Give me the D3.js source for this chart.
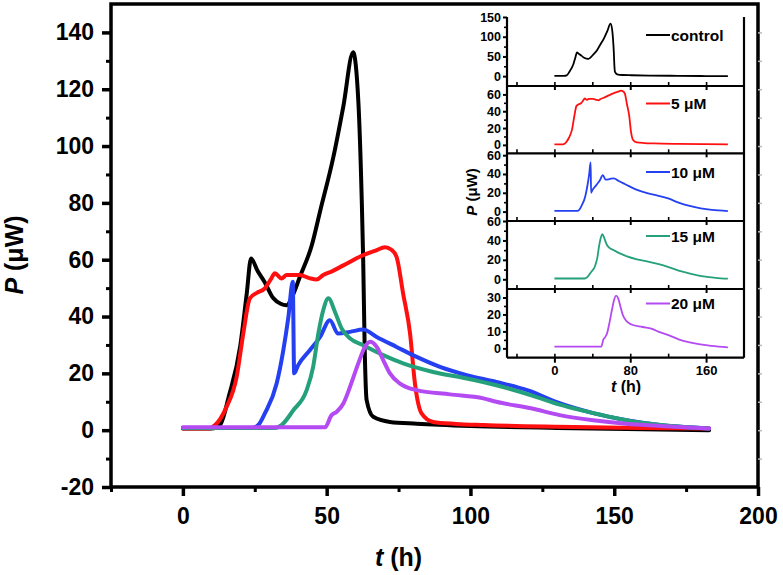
<!DOCTYPE html>
<html><head><meta charset="utf-8">
<script src="https://cdn.jsdelivr.net/npm/d3@7"></script>
<style>
body{margin:0;background:#fff;}
svg{display:block;font-family:"Liberation Sans",Arial,sans-serif;font-weight:bold;}
</style></head>
<body><svg id="c" width="783" height="575"></svg>
<script>
// ---- data ----
const seriesNames = ["control", "5 \u03bcM", "10 \u03bcM", "15 \u03bcM", "20 \u03bcM"];
const seriesColors = ["#000000", "#ff1010", "#2440f0", "#24a07a", "#b44af2"];

const tControl = [0, 10, 13, 16, 20, 22.2, 23.7, 26, 28.5, 31.4, 34, 36.1, 38, 40.7, 44.8, 47.7, 52.3, 55.8, 59.2, 61, 62.2, 62.7, 63.2, 63.9, 66.2, 72, 81.3, 100, 130, 160, 183];
const pControl = [0.6, 0.6, 2, 12, 30, 48, 60.4, 56, 52, 46.5, 44.5, 44, 47, 54, 65, 77, 96, 114, 133, 116, 81, 60, 30, 10.6, 4.7, 2.9, 2.3, 1.5, 0.8, 0.3, 0];

const tRed = [0, 9, 11.2, 13, 15.2, 18.7, 21, 23.3, 25.7, 28.5, 30.5, 32, 34.3, 36.1, 40.7, 44, 46.5, 48.8, 52, 55.8, 62.7, 67, 70.3, 72.5, 74.3, 76.6, 79, 80.7, 83, 87, 95, 104.5, 130, 160, 183];
const pRed = [0.6, 0.6, 1.8, 4, 8.2, 18.8, 34, 46.4, 48.3, 49.9, 53, 55.2, 53.4, 54.6, 54.6, 53.5, 53, 54.6, 56, 58, 61.6, 63.2, 64.4, 63.5, 61, 48, 34, 16.4, 5.9, 2.9, 2.2, 1.8, 1.2, 0.8, 0.6];

const tBlue = [0, 24, 26.2, 28.5, 32.6, 34.9, 36.7, 38.2, 38.7, 40.1, 44.2, 47.7, 51.1, 54, 58.1, 62.7, 67.4, 74.3, 81.3, 89.4, 98.7, 109, 120, 131, 142.7, 154.3, 166, 183];
const pBlue = [0.8, 0.8, 1.8, 5.9, 16.4, 28, 39.9, 52.2, 20, 22.9, 28.2, 32.8, 38.7, 34, 34.6, 35.4, 32.8, 29.3, 25.8, 22.3, 19.4, 17, 14, 9.5, 6, 3.5, 1.8, 0.6];

const tGreen = [0, 32, 34.3, 38.4, 43, 45.3, 47.1, 48.8, 50.6, 52.9, 55.2, 58.1, 62.7, 69.7, 76.6, 87, 98.7, 109, 122, 131, 139.5, 157, 170, 183];
const pGreen = [0.8, 0.8, 1.8, 7, 14, 22.3, 34, 42.2, 46.4, 41.6, 35.8, 32.3, 29.9, 26.4, 23.5, 20.5, 18.2, 15.8, 12, 9, 6.8, 3, 1.5, 0.6];

const tPurple = [0, 49.4, 51.7, 53.5, 55.8, 58.1, 61, 63.3, 65.1, 67.4, 69.7, 72, 75.5, 81.3, 92.9, 104.5, 109, 121, 131, 142.7, 154, 166, 183];
const pPurple = [1, 1, 5.3, 6.5, 9.4, 15.2, 23.5, 29.3, 31.1, 29.3, 24.6, 20, 16.4, 14.1, 12.6, 11.2, 10, 7.7, 5.3, 3.5, 2.3, 1.5, 0.6];

const mainXTicks = [0, 50, 100, 150, 200];
const mainYTicks = [-20, 0, 20, 40, 60, 80, 100, 120, 140];
const insetXTicks = [0, 80, 160];
const insetYTicks = [[0, 50, 100, 150], [0, 20, 40, 60], [0, 20, 40, 60], [0, 20, 40, 60], [0, 10, 20, 30]];
const insetYDomains = [[-25, 150], [-10, 70], [-10, 62], [-10, 60], [-5.5, 35]];

const series = [[tControl, pControl], [tRed, pRed], [tBlue, pBlue], [tGreen, pGreen], [tPurple, pPurple]]
  .map((s, i) => ({name: seriesNames[i], color: seriesColors[i], pts: s[0].map((t, j) => [t, s[1][j]])}));

// ---- layout ----
const svg = d3.select("#c");
const L = 111, R = 758, T = 4, B = 487;
const x = d3.scaleLinear().domain([-25, 200]).range([L, R]);
const y = d3.scaleLinear().domain([-20, 150]).range([B, T]);
const fmt = d => String(d);

const g = svg.append("g");
const line = d3.line().x(d => x(d[0])).y(d => y(d[1])).curve(d3.curveMonotoneX);
series.forEach(s => {
  g.append("path").attr("d", line(s.pts)).attr("fill", "none")
    .attr("stroke", s.color).attr("stroke-width", 4).attr("stroke-linejoin", "round").attr("stroke-linecap", "round");
});

g.append("rect").attr("x", L).attr("y", T).attr("width", R - L).attr("height", B - T)
  .attr("fill", "none").attr("stroke", "#000").attr("stroke-width", 3.5);

const xAxis = d3.axisBottom(x).tickValues(mainXTicks).tickSize(9).tickPadding(12).tickFormat(fmt);
const xMinor = d3.axisBottom(x).tickValues([-25, 25, 75, 125, 175]).tickSize(5).tickFormat("");
const yAxis = d3.axisLeft(y).tickValues(mainYTicks).tickSize(9).tickPadding(8).tickFormat(fmt);
const yMinor = d3.axisLeft(y).tickValues(d3.range(-10, 150, 20)).tickSize(5).tickFormat("");

function styleAxis(sel, fs, sw) {
  sel.select(".domain").remove();
  sel.selectAll("line").attr("stroke", "#000").attr("stroke-width", sw);
  sel.selectAll("text").attr("font-size", fs).attr("font-weight", "bold").attr("fill", "#000")
    .attr("font-family", "'Liberation Sans',Arial,sans-serif");
}
g.append("g").attr("transform", `translate(0,${B})`).call(xAxis).call(s => styleAxis(s, 23, 3.5));
g.append("g").attr("transform", `translate(0,${B})`).call(xMinor).call(s => styleAxis(s, 23, 3));
g.append("g").attr("transform", `translate(${L},0)`).call(yAxis).call(s => styleAxis(s, 23, 3.5));
g.append("g").attr("transform", `translate(${L},0)`).call(yMinor).call(s => styleAxis(s, 23, 3));
g.append("g").attr("transform", `translate(${R},0)`).call(d3.axisRight(y).tickValues(d3.range(-10, 150, 10)).tickSize(4).tickFormat(""))
  .call(s => { s.select(".domain").remove(); s.selectAll("line").attr("stroke", "#bbb").attr("stroke-width", 1.5); });

const xt = g.append("text").attr("x", x(75)).attr("y", 566).attr("text-anchor", "middle").attr("font-size", 25);
xt.append("tspan").attr("font-style", "italic").text("t");
xt.append("tspan").text(" (h)");
const yt = g.append("text").attr("transform", "translate(23,255) rotate(-90)").attr("text-anchor", "middle").attr("font-size", 25);
yt.append("tspan").attr("font-style", "italic").text("P");
yt.append("tspan").text(" (\u03bcW)");

// ---- inset ----
const iL = 507, iR = 744;
const panelBounds = [[17, 86], [86, 153.3], [153.3, 221], [221, 289], [289, 357.7]];
const ix = d3.scaleLinear().domain([-50, 200]).range([iL, iR]);
const ig = svg.append("g");
ig.append("rect").attr("x", iL).attr("y", panelBounds[0][0]).attr("width", iR - iL)
  .attr("height", panelBounds[4][1] - panelBounds[0][0]).attr("fill", "#fff");

series.forEach((s, i) => {
  const [top, bot] = panelBounds[i];
  const iy = d3.scaleLinear().domain(insetYDomains[i]).range([bot, top]);
  const il = d3.line().x(d => ix(d[0])).y(d => iy(d[1])).curve(d3.curveMonotoneX);
  ig.append("path").attr("d", il(s.pts)).attr("fill", "none").attr("stroke", s.color)
    .attr("stroke-width", 1.8).attr("stroke-linejoin", "round");
  ig.append("g").attr("transform", `translate(${iL},0)`)
    .call(d3.axisLeft(iy).tickValues(insetYTicks[i]).tickSize(4).tickPadding(2).tickFormat(fmt))
    .call(a => styleAxis(a, 12.5, 2));
  const step = insetYTicks[i][1] - insetYTicks[i][0];
  const minor = insetYTicks[i].map(v => v + step / 2).filter(v => v < insetYDomains[i][1]);
  ig.append("g").attr("transform", `translate(${iL},0)`)
    .call(d3.axisLeft(iy).tickValues(minor).tickSize(3).tickFormat(""))
    .call(a => styleAxis(a, 12, 1.6));
  ig.append("g").attr("transform", `translate(0,${bot})`)
    .call(d3.axisBottom(ix).tickValues(insetXTicks).tickSizeInner(i === 4 ? 5 : 4).tickSizeOuter(0).tickFormat(i === 4 ? fmt : ""))
    .call(a => styleAxis(a, 13, 2));
  ig.append("g").attr("transform", `translate(0,${bot})`)
    .call(d3.axisTop(ix).tickValues(insetXTicks.concat([-40, 40, 120])).tickSize(4).tickFormat(""))
    .call(a => styleAxis(a, 12, 1.6));
  ig.append("line").attr("x1", iL).attr("x2", iR).attr("y1", bot).attr("y2", bot).attr("stroke", "#000").attr("stroke-width", 2.2);
  const ly = [35, 103.5, 172, 236, 303.5][i];
  ig.append("line").attr("x1", 646).attr("x2", 670).attr("y1", ly).attr("y2", ly).attr("stroke", s.color).attr("stroke-width", 2);
  ig.append("text").attr("x", 671).attr("y", ly + 5.5).attr("font-size", 15.5).attr("fill", "#000").text(s.name);
});
ig.append("line").attr("x1", iL).attr("x2", iL).attr("y1", panelBounds[0][0]).attr("y2", panelBounds[4][1]).attr("stroke", "#000").attr("stroke-width", 2.2);
ig.append("line").attr("x1", iR).attr("x2", iR).attr("y1", panelBounds[0][0]).attr("y2", panelBounds[4][1]).attr("stroke", "#000").attr("stroke-width", 2.2);
const ixt = ig.append("text").attr("x", 626).attr("y", 392).attr("text-anchor", "middle").attr("font-size", 16);
ixt.append("tspan").attr("font-style", "italic").text("t");
ixt.append("tspan").text(" (h)");
const iyt = ig.append("text").attr("transform", "translate(477,192) rotate(-90)").attr("text-anchor", "middle").attr("font-size", 15);
iyt.append("tspan").attr("font-style", "italic").text("P");
iyt.append("tspan").text(" (\u03bcW)");
</script></body></html>
